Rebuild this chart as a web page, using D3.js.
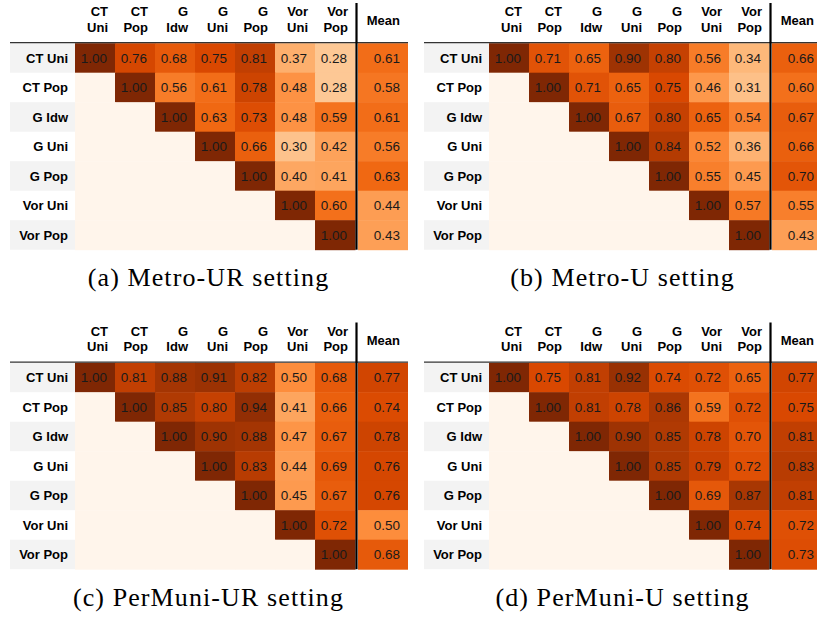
<!DOCTYPE html>
<html>
<head>
<meta charset="utf-8">
<script src="https://cdn.jsdelivr.net/npm/d3@7"></script>
<style>
  body { margin: 0; background: #fff; }
  svg { display: block; }
</style>
</head>
<body>
<svg id="chart" width="817" height="620"></svg>
<script>
'use strict'

// column headers (two lines each) and row labels
const colLabels = [['CT', 'Uni'], ['CT', 'Pop'], ['G', 'Idw'], ['G', 'Uni'], ['G', 'Pop'], ['Vor', 'Uni'], ['Vor', 'Pop']]
const rowLabels = ['CT Uni', 'CT Pop', 'G Idw', 'G Uni', 'G Pop', 'Vor Uni', 'Vor Pop']

// upper triangles, null = blank cell
const metroUR = [
  [1.00, 0.76, 0.68, 0.75, 0.81, 0.37, 0.28],
  [null, 1.00, 0.56, 0.61, 0.78, 0.48, 0.28],
  [null, null, 1.00, 0.63, 0.73, 0.48, 0.59],
  [null, null, null, 1.00, 0.66, 0.30, 0.42],
  [null, null, null, null, 1.00, 0.40, 0.41],
  [null, null, null, null, null, 1.00, 0.60],
  [null, null, null, null, null, null, 1.00]
]
const metroURMean = [0.61, 0.58, 0.61, 0.56, 0.63, 0.44, 0.43]

const metroU = [
  [1.00, 0.71, 0.65, 0.90, 0.80, 0.56, 0.34],
  [null, 1.00, 0.71, 0.65, 0.75, 0.46, 0.31],
  [null, null, 1.00, 0.67, 0.80, 0.65, 0.54],
  [null, null, null, 1.00, 0.84, 0.52, 0.36],
  [null, null, null, null, 1.00, 0.55, 0.45],
  [null, null, null, null, null, 1.00, 0.57],
  [null, null, null, null, null, null, 1.00]
]
const metroUMean = [0.66, 0.60, 0.67, 0.66, 0.70, 0.55, 0.43]

const perMuniUR = [
  [1.00, 0.81, 0.88, 0.91, 0.82, 0.50, 0.68],
  [null, 1.00, 0.85, 0.80, 0.94, 0.41, 0.66],
  [null, null, 1.00, 0.90, 0.88, 0.47, 0.67],
  [null, null, null, 1.00, 0.83, 0.44, 0.69],
  [null, null, null, null, 1.00, 0.45, 0.67],
  [null, null, null, null, null, 1.00, 0.72],
  [null, null, null, null, null, null, 1.00]
]
const perMuniURMean = [0.77, 0.74, 0.78, 0.76, 0.76, 0.50, 0.68]

const perMuniU = [
  [1.00, 0.75, 0.81, 0.92, 0.74, 0.72, 0.65],
  [null, 1.00, 0.81, 0.78, 0.86, 0.59, 0.72],
  [null, null, 1.00, 0.90, 0.85, 0.78, 0.70],
  [null, null, null, 1.00, 0.85, 0.79, 0.72],
  [null, null, null, null, 1.00, 0.69, 0.87],
  [null, null, null, null, null, 1.00, 0.74],
  [null, null, null, null, null, null, 1.00]
]
const perMuniUMean = [0.77, 0.75, 0.81, 0.83, 0.81, 0.72, 0.73]

const captions = ['(a) Metro-UR setting', '(b) Metro-U setting', '(c) PerMuni-UR setting', '(d) PerMuni-U setting']

const panels = [
  { values: metroUR, means: metroURMean, caption: captions[0], dx: 0, dy: 0 },
  { values: metroU, means: metroUMean, caption: captions[1], dx: 414, dy: 0 },
  { values: perMuniUR, means: perMuniURMean, caption: captions[2], dx: 0, dy: 319.5 },
  { values: perMuniU, means: perMuniUMean, caption: captions[3], dx: 414, dy: 319.5 }
]

const sans = '"Liberation Sans", Arial, sans-serif'
const serif = '"Liberation Serif", "Times New Roman", serif'

// matplotlib-like Oranges: linear over the 9 brewer colours
const color = d3.scaleLinear()
  .domain(d3.range(9).map(i => i / 8))
  .range(d3.schemeOranges[9])

const x = d3.scaleBand()
  .domain(d3.range(colLabels.length))
  .range([75, 355])

const y = d3.scaleBand()
  .domain(d3.range(rowLabels.length))
  .range([43.2, 43.2 + 29.5 * rowLabels.length])

const meanX0 = 358, meanX1 = 408

const svg = d3.select('#chart')

panels.forEach(p => {
  const g = svg.append('g').attr('transform', `translate(${p.dx},${p.dy})`)

  // striped row label background
  g.selectAll('rect.band')
    .data(rowLabels.filter((d, i) => i % 2 === 0).map(d => rowLabels.indexOf(d)))
    .enter().append('rect')
    .attr('x', 10)
    .attr('y', i => y(i))
    .attr('width', 65)
    .attr('height', y.bandwidth())
    .attr('fill', '#f3f3f3')

  // cells
  const cells = []
  p.values.forEach((row, i) => row.forEach((v, j) => cells.push({ i, j, v })))

  g.selectAll('rect.cell')
    .data(cells)
    .enter().append('rect')
    .attr('x', d => x(d.j))
    .attr('y', d => y(d.i))
    .attr('width', x.bandwidth() + 0.5)
    .attr('height', y.bandwidth() + 0.5)
    .attr('fill', d => color(d.v === null ? 0 : d.v))

  g.selectAll('text.cell')
    .data(cells.filter(d => d.v !== null))
    .enter().append('text')
    .attr('x', d => x(d.j) + x.bandwidth() - 8)
    .attr('y', d => y(d.i) + y.bandwidth() / 2)
    .attr('dy', '0.36em')
    .attr('text-anchor', 'end')
    .style('font-family', sans)
    .style('font-size', '13.5px')
    .attr('fill', '#1a1a1a')
    .text(d => d.v.toFixed(2))

  // mean column
  g.selectAll('rect.mean')
    .data(p.means)
    .enter().append('rect')
    .attr('x', meanX0)
    .attr('y', (d, i) => y(i))
    .attr('width', meanX1 - meanX0)
    .attr('height', y.bandwidth() + 0.5)
    .attr('fill', d => color(d))

  g.selectAll('text.mean')
    .data(p.means)
    .enter().append('text')
    .attr('x', meanX1 - 8)
    .attr('y', (d, i) => y(i) + y.bandwidth() / 2)
    .attr('dy', '0.36em')
    .attr('text-anchor', 'end')
    .style('font-family', sans)
    .style('font-size', '13.5px')
    .attr('fill', '#1a1a1a')
    .text(d => d.toFixed(2))

  // row labels
  g.selectAll('text.row')
    .data(rowLabels)
    .enter().append('text')
    .attr('x', 68)
    .attr('y', (d, i) => y(i) + y.bandwidth() / 2)
    .attr('dy', '0.36em')
    .attr('text-anchor', 'end')
    .style('font-family', sans)
    .style('font-size', '13px')
    .style('font-weight', 'bold')
    .attr('fill', '#000')
    .text(d => d)

  // column headers
  const head = g.selectAll('text.head')
    .data(colLabels)
    .enter().append('text')
    .attr('text-anchor', 'end')
    .style('font-family', sans)
    .style('font-size', '13px')
    .style('font-weight', 'bold')
    .attr('fill', '#000')
  head.append('tspan')
    .attr('x', (d, j) => x(j) + x.bandwidth() - 7)
    .attr('y', 16)
    .text(d => d[0])
  head.append('tspan')
    .attr('x', (d, j) => x(j) + x.bandwidth() - 7)
    .attr('y', 31.7)
    .text(d => d[1])

  g.append('text')
    .attr('x', meanX1 - 8)
    .attr('y', 25)
    .attr('text-anchor', 'end')
    .style('font-family', sans)
    .style('font-size', '13px')
    .style('font-weight', 'bold')
    .attr('fill', '#000')
    .text('Mean')

  // rules
  g.append('line')
    .attr('x1', 10).attr('x2', meanX1)
    .attr('y1', y(0) - 0.5).attr('y2', y(0) - 0.5)
    .attr('stroke', '#333')
    .attr('stroke-width', 1.3)

  g.append('line')
    .attr('x1', 356.5).attr('x2', 356.5)
    .attr('y1', 3).attr('y2', y.range()[1])
    .attr('stroke', '#000')
    .attr('stroke-width', 2.2)

  // caption
  g.append('text')
    .attr('x', 208.5)
    .attr('y', 286)
    .attr('text-anchor', 'middle')
    .style('font-family', serif)
    .style('font-size', '26px')
    .style('letter-spacing', '1.1px')
    .attr('fill', '#000')
    .text(p.caption)
})
</script>
</body>
</html>
